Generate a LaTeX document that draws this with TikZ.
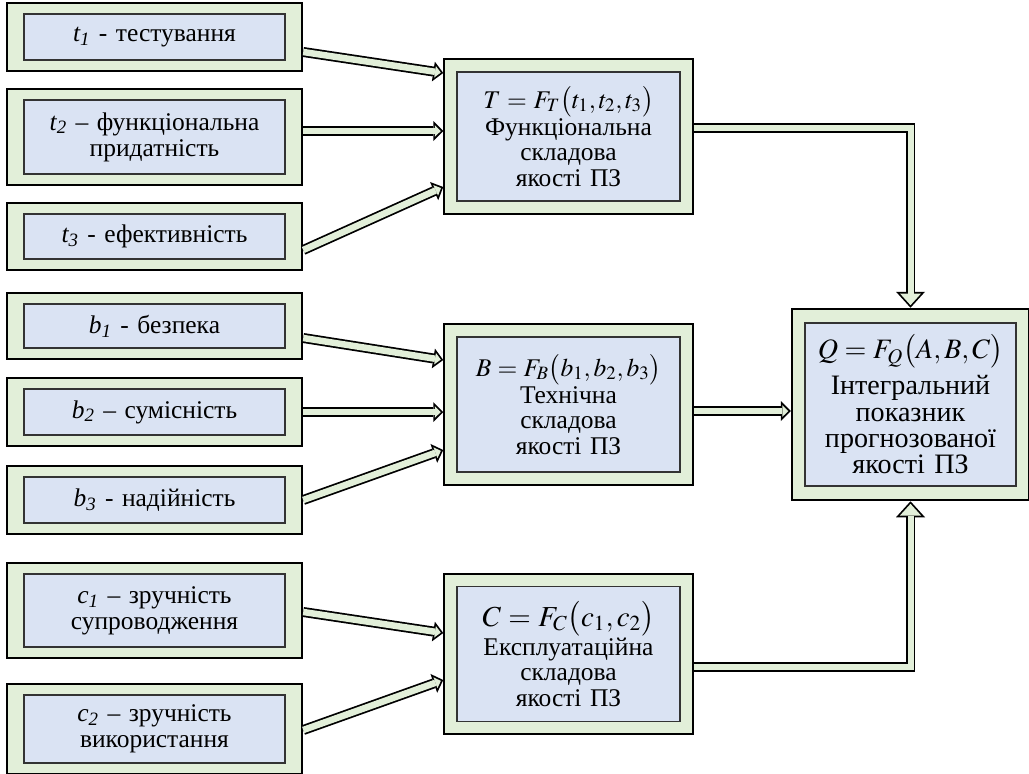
\documentclass[tikz,border=0pt]{standalone}
\usepackage{mathptmx}
\usepackage[no-math]{fontspec}
\setmainfont{Liberation Serif}
\usetikzlibrary{positioning,fit,backgrounds,arrows.meta}
\definecolor{framegreen}{HTML}{E2EFD9}
\definecolor{boxblue}{HTML}{DAE3F3}
\tikzset{factor/.style={draw=black!80,line width=0.3mm,fill=boxblue,text width=50mm,inner xsep=1.1mm,align=center,
                        font=\fontsize{14.5}{14.8}\selectfont},
         group/.style={draw=black!80,line width=0.3mm,fill=boxblue,text width=42.4mm,inner xsep=1.1mm,align=center,
                       font=\fontsize{14.5}{14.4}\selectfont},
         frame/.style={draw,line width=0.4mm,fill=framegreen},
         flowout/.style={line width=2mm,draw=black,-{Triangle[length=2mm,width=4mm,line width=0pt]}},
         flowin/.style={line width=1.3mm,draw=framegreen,shorten >=0.5mm,-{Triangle[length=1.16mm,width=2.31mm,line width=0pt]}},
         bigout/.style={line width=1.9mm,draw=black,-{Triangle[length=3.2mm,width=5.8mm,line width=0pt]}},
         bigin/.style={line width=1.2mm,draw=framegreen,shorten >=0.52mm,-{Triangle[length=2.33mm,width=4.22mm,line width=0pt]}}
}

\begin{document}
\begin{tikzpicture}[x=0.2mm,y=-0.2mm]
  \useasboundingbox (0,0) rectangle (1029,773);
  % factors
  \node[factor, minimum height=9.2mm] (t1) at (154.5,37) {\textit{t\textsubscript{1}} - тестування};
  \node[factor, minimum height=14.8mm] (t2) at (154.5,137) {\textit{t\textsubscript{2}} – функціональна\\придатність};
  \node[factor, minimum height=9mm] (t3) at (154.5,236.5) {\textit{t\textsubscript{3}} - ефективність};
  \node[factor, minimum height=8.8mm] (b1) at (154.5,326) {\textit{b\textsubscript{1}} - безпека};
  \node[factor, minimum height=9.2mm] (b2) at (154.5,412) {\textit{b\textsubscript{2}} – сумісність};
  \node[factor, minimum height=9.2mm] (b3) at (154.5,500) {\textit{b\textsubscript{3}} - надійність};
  \node[factor, minimum height=14.6mm] (c1) at (154.5,610.5) {\textit{c\textsubscript{1}} – зручність\\супроводження};
  \node[factor, minimum height=13.6mm] (c2) at (154.5,729) {\textit{c\textsubscript{2}} – зручність\\використання};
  % groups
  \node[group, minimum height=25.8mm] (T) at (568.5,136.5) {$T=F_T\bigl(t_1,t_2,t_3\bigr)$\\Функціональна\\складова\\якості ПЗ};
  \node[group, minimum height=27mm] (B) at (568.5,404.5) {$B=F_B\bigl(b_1,b_2,b_3\bigr)$\\Технічна\\складова\\якості ПЗ};
  \node[group, minimum height=27mm] (C) at (568.5,654) {{\fontsize{16.5}{15}\selectfont$C=F_C\bigl(c_1,c_2\bigr)$}\\Експлуатаційна\\складова\\якості ПЗ};
  \node[group, text width=40mm, minimum height=32.6mm, font=\fontsize{16}{15}\selectfont] (Q) at (910.5,404.5)
       {$Q=F_Q\bigl(A,B,C\bigr)$\\[3pt]Інтегральний\\показник\\прогнозованої\\якості ПЗ};

  \begin{scope}[on background layer]
   \node[frame,inner xsep=3.3mm,inner ysep=2mm,fit=(t1)] (t1f) {};
   \node[frame,inner xsep=3.3mm,inner ysep=2mm,fit=(t2)] (t2f) {};
   \node[frame,inner xsep=3.3mm,inner ysep=2mm,fit=(t3)] (t3f) {};
   \node[frame,inner xsep=3.3mm,inner ysep=2mm,fit=(b1)] (b1f) {};
   \node[frame,inner xsep=3.3mm,inner ysep=2mm,fit=(b2)] (b2f) {};
   \node[frame,inner xsep=3.3mm,inner ysep=2mm,fit=(b3)] (b3f) {};
   \node[frame,inner xsep=3.3mm,inner ysep=2mm,fit=(c1)] (c1f) {};
   \node[frame,inner xsep=3.3mm,inner ysep=2mm,fit=(c2)] (c2f) {};
   \node[frame,inner sep=2.4mm,fit=(T)] (Tf) {};
   \node[frame,inner sep=2.4mm,fit=(B)] (Bf) {};
   \node[frame,inner sep=2.4mm,fit=(C)] (Cf) {};
   \node[frame,inner xsep=2.5mm,inner ysep=2.7mm,fit=(Q)] (Qf) {};
  \end{scope}

  \draw[flowout] (t1f.east |- 0,52) -- (Tf.west |- 0,73);
  \draw[flowin] (t1f.east |- 0,52) -- (Tf.west |- 0,73);
  \draw[flowout] (t2f.east |- 0,131) -- (Tf.west |- 0,131);
  \draw[flowin] (t2f.east |- 0,131) -- (Tf.west |- 0,131);
  \draw[flowout] (t3f.east |- 0,250) -- (Tf.west |- 0,187);
  \draw[flowin] (t3f.east |- 0,250) -- (Tf.west |- 0,187);

  \draw[flowout] (b1f.east |- 0,338) -- (Bf.west |- 0,360);
  \draw[flowin] (b1f.east |- 0,338) -- (Bf.west |- 0,360);
  \draw[flowout] (b2f.east |- 0,412) -- (Bf.west |- 0,412);
  \draw[flowin] (b2f.east |- 0,412) -- (Bf.west |- 0,412);
  \draw[flowout] (b3f.east |- 0,500) -- (Bf.west |- 0,450);
  \draw[flowin] (b3f.east |- 0,500) -- (Bf.west |- 0,450);

  \draw[flowout] (c1f.east |- 0,612) -- (Cf.west |- 0,633);
  \draw[flowin] (c1f.east |- 0,612) -- (Cf.west |- 0,633);
  \draw[flowout] (c2f.east |- 0,730) -- (Cf.west |- 0,680);
  \draw[flowin] (c2f.east |- 0,730) -- (Cf.west |- 0,680);

  \draw[bigout] (Tf.east |- 0,128) -| (Qf.north);
  \draw[bigin] (Tf.east |- 0,128) -| (Qf.north);
  \draw[flowout] (Bf.east |- 0,411) -- (Qf.west |- 0,411);
  \draw[flowin] (Bf.east |- 0,411) -- (Qf.west |- 0,411);
  \draw[bigout] (Cf.east |- 0,667) -| (Qf.south);
  \draw[bigin] (Cf.east |- 0,667) -| (Qf.south);
\end{tikzpicture}
\end{document}
